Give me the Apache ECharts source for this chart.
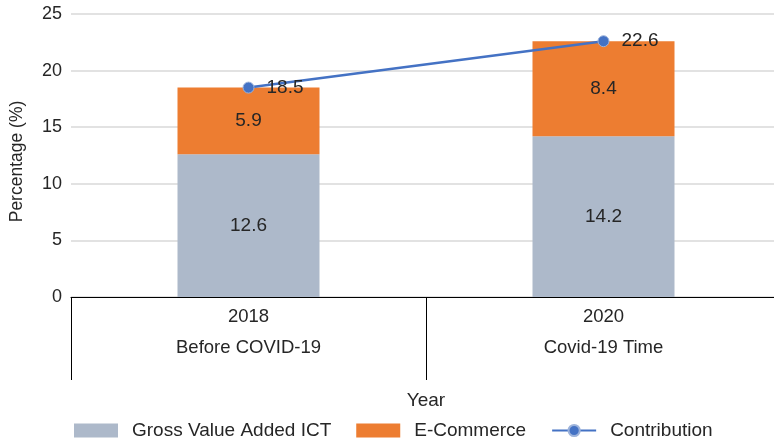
<!DOCTYPE html>
<html>
<head>
<meta charset="utf-8">
<script src="https://cdn.jsdelivr.net/npm/echarts@6/dist/echarts.min.js"></script>
<style>
  html, body { margin: 0; padding: 0; background: #fff; overflow: hidden; }
  #wrap { width: 774px; height: 445px; overflow: hidden; }
  /* the plot area runs a little past the right edge of the visible frame */
  #chart { width: 782px; height: 445px; }
</style>
</head>
<body>
<div id="wrap"><div id="chart"></div></div>
<script>
// Category labels: year on the first line, period on the second
const years = ['2018', '2020'];
const periods = ['Before COVID-19', 'Covid-19 Time'];

// Shares of the economy (%)
const gvaIct = [12.6, 14.2];
const eCommerce = [5.9, 8.4];
const contribution = [18.5, 22.6];

const yTicks = { min: 0, max: 25, interval: 5 };

const FONT = '"Liberation Sans", Arial, sans-serif';
const TEXT = '#262626';

const categories = years.map((y, i) => y + '\n' + periods[i]);

const chart = echarts.init(document.getElementById('chart'), null, { renderer: 'canvas' });

chart.setOption({
  animation: false,
  textStyle: { fontFamily: FONT, color: TEXT },
  grid: { left: 71, right: 1, top: 14, bottom: 148, containLabel: false },
  xAxis: {
    type: 'category',
    data: categories,
    name: 'Year',
    nameLocation: 'middle',
    nameGap: 94,
    nameTextStyle: { fontFamily: FONT, fontSize: 19, color: TEXT },
    axisLine: { lineStyle: { color: '#000', width: 1 } },
    axisTick: { show: true, length: 83, lineStyle: { color: '#000', width: 1 } },
    axisLabel: { fontFamily: FONT, fontSize: 18.5, color: TEXT, lineHeight: 31, margin: 4 }
  },
  yAxis: {
    type: 'value',
    min: yTicks.min,
    max: yTicks.max,
    interval: yTicks.interval,
    name: 'Percentage (%)',
    nameLocation: 'middle',
    nameGap: 45,
    nameTextStyle: { fontFamily: FONT, fontSize: 17.5, color: TEXT, padding: [0, 12, 0, 0] },
    axisLine: { show: false },
    axisTick: { show: false },
    axisLabel: { fontFamily: FONT, fontSize: 18, color: TEXT, margin: 9 },
    splitLine: { lineStyle: { color: '#d9d9d9', width: 1.5 } }
  },
  legend: {
    left: 69,
    top: 416,
    itemWidth: 44,
    itemHeight: 14,
    itemGap: 25,
    textStyle: { fontFamily: FONT, fontSize: 19, color: TEXT, padding: [0, 0, 0, 9] },
    data: [
      { name: 'Gross Value Added ICT', icon: 'rect' },
      { name: 'E-Commerce', icon: 'rect' },
      { name: 'Contribution' }
    ]
  },
  series: [
    {
      name: 'Gross Value Added ICT',
      type: 'bar',
      stack: 'total',
      barWidth: '40%',
      data: gvaIct,
      itemStyle: { color: '#ADB9CA' },
      label: { show: true, position: 'inside', fontFamily: FONT, fontSize: 19, color: TEXT }
    },
    {
      name: 'E-Commerce',
      type: 'bar',
      stack: 'total',
      barWidth: '40%',
      data: eCommerce,
      itemStyle: { color: '#ED7D31' },
      label: { show: true, position: 'inside', fontFamily: FONT, fontSize: 19, color: TEXT }
    },
    {
      name: 'Contribution',
      type: 'line',
      data: contribution,
      symbol: 'circle',
      symbolSize: 11,
      lineStyle: { color: '#4472C4', width: 2.5 },
      itemStyle: { color: '#4472C4', borderColor: '#9DB3DB', borderWidth: 1 },
      label: { show: true, position: 'right', distance: 12, fontFamily: FONT, fontSize: 19, color: TEXT },
      z: 5
    }
  ]
});
</script>
</body>
</html>
